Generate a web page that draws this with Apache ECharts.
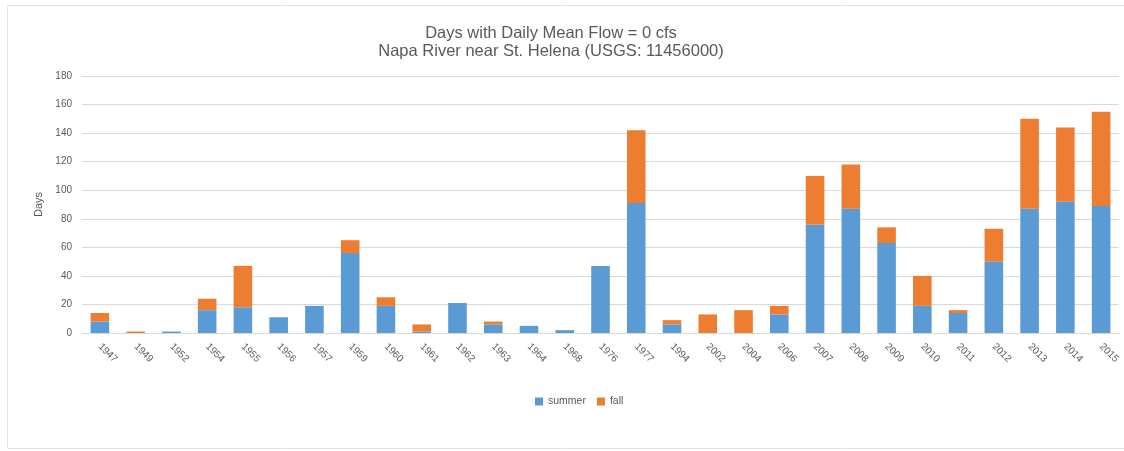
<!DOCTYPE html>
<html>
<head>
<meta charset="utf-8">
<script src="https://cdn.jsdelivr.net/npm/echarts@6/dist/echarts.min.js"></script>
<style>
  html, body { margin: 0; padding: 0; background: #fff; }
  #chart { width: 1124px; height: 451px; }
</style>
</head>
<body>
<div id="chart"></div>
<script>
// years with at least one zero-flow day
const years = [
  '1947', '1949', '1952', '1954', '1955', '1956', '1957', '1959', '1960', '1961',
  '1962', '1963', '1964', '1968', '1976', '1977', '1994', '2002', '2004', '2006',
  '2007', '2008', '2009', '2010', '2011', '2012', '2013', '2014', '2015'
];

// days per season
const summer = [
  8, 0, 1, 16, 18, 11, 19, 56, 19, 1,
  21, 6, 5, 2, 47, 91, 6, 0, 0, 13,
  76, 87, 63, 19, 14, 50, 87, 92, 89
];
const fall = [
  6, 1, 0, 8, 29, 0, 0, 9, 6, 5,
  0, 2, 0, 0, 0, 51, 3, 13, 16, 6,
  34, 31, 11, 21, 2, 23, 63, 52, 66
];

const yTicks = { min: 0, max: 180, interval: 20 };

const textColor = '#595959';
const font = '"Liberation Sans", Arial, sans-serif';

const chart = echarts.init(document.getElementById('chart'));

const option = {
  animation: false,
  textStyle: { fontFamily: font },
  title: {
    text: 'Days with Daily Mean Flow = 0 cfs\nNapa River near St. Helena (USGS: 11456000)',
    left: 546,
    textAlign: 'center',
    top: 19,
    textStyle: {
      fontSize: 16.5,
      fontWeight: 'normal',
      color: textColor,
      lineHeight: 18,
      fontFamily: font
    }
  },
  legend: {
    bottom: 39,
    left: 530,
    itemWidth: 8,
    itemHeight: 8,
    itemGap: 11,
    icon: 'rect',
    textStyle: { fontSize: 10.5, color: textColor, fontFamily: font },
    data: ['summer', 'fall']
  },
  grid: {
    left: 82,
    right: 5,
    top: 76,
    bottom: 118
  },
  xAxis: {
    type: 'category',
    data: years,
    axisLine: { lineStyle: { color: '#d9d9d9' } },
    axisTick: { show: false },
    axisLabel: {
      rotate: -45,
      color: textColor,
      fontSize: 10,
      margin: 12,
      interval: 0
    }
  },
  yAxis: {
    type: 'value',
    min: yTicks.min,
    max: yTicks.max,
    interval: yTicks.interval,
    name: 'Days',
    nameLocation: 'middle',
    nameGap: 36,
    nameTextStyle: { color: textColor, fontSize: 11 },
    axisLine: { show: false },
    axisTick: { show: false },
    axisLabel: { color: textColor, fontSize: 10, margin: 10 },
    splitLine: { lineStyle: { color: '#d9d9d9' } }
  },
  series: [
    {
      name: 'summer',
      type: 'bar',
      stack: 'days',
      data: summer,
      barWidth: '52%',
      itemStyle: { color: '#5B9BD5' }
    },
    {
      name: 'fall',
      type: 'bar',
      stack: 'days',
      data: fall,
      barWidth: '52%',
      itemStyle: { color: '#ED7D31' }
    }
  ],
  graphic: [
    {
      type: 'rect',
      shape: { x: 7.5, y: 5.5, width: 1130, height: 443 },
      style: { fill: 'none', stroke: '#e3e3e3', lineWidth: 1 },
      silent: true
    }
  ]
};

chart.setOption(option);
</script>
</body>
</html>
